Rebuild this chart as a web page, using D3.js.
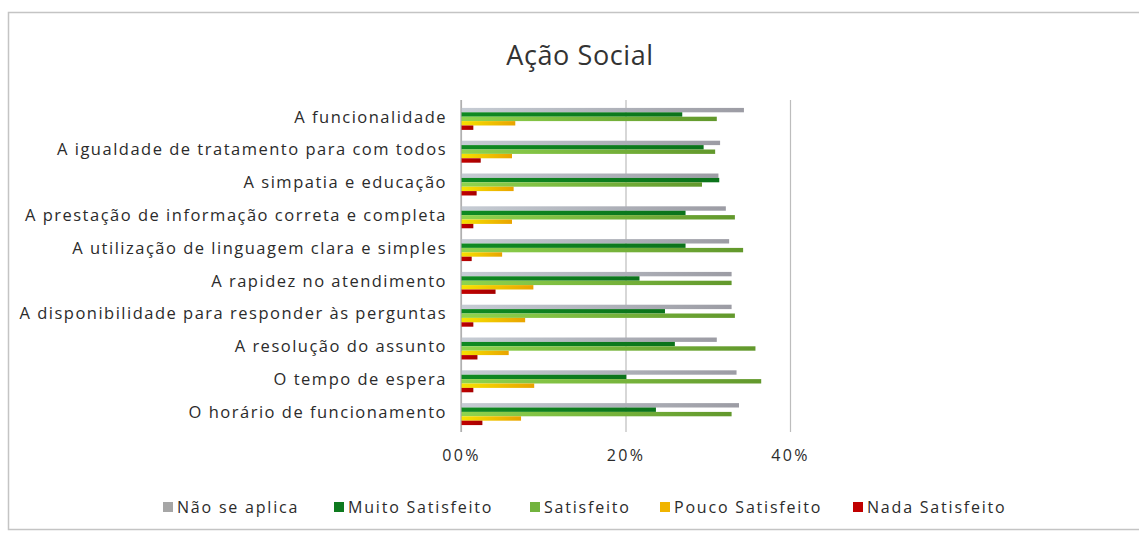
<!DOCTYPE html>
<html lang="pt">
<head>
<meta charset="utf-8">
<title>Ação Social</title>
<script src="https://cdn.jsdelivr.net/npm/d3@7"></script>
<style>
  html, body { margin: 0; padding: 0; background: #fff; }
  svg { display: block; }
  text { font-family: "Open Sans", "Noto Sans", sans-serif; fill: #3a3a3a; }
</style>
</head>
<body>
<svg id="chart" width="1139" height="534"></svg>
<script>
// Survey categories (top to bottom)
const categories = [
  "A funcionalidade",
  "A igualdade de tratamento para com todos",
  "A simpatia e educação",
  "A prestação de informação correta e completa",
  "A utilização de linguagem clara e simples",
  "A rapidez no atendimento",
  "A disponibilidade para responder às perguntas",
  "A resolução do assunto",
  "O tempo de espera",
  "O horário de funcionamento"
];

// Percentages per answer
const naoSeAplica     = [34.4, 31.5, 31.3, 32.2, 32.6, 32.9, 32.9, 31.1, 33.5, 33.8];
const muitoSatisfeito = [26.9, 29.5, 31.4, 27.3, 27.3, 21.7, 24.8, 26.0, 20.1, 23.7];
const satisfeito      = [31.1, 30.9, 29.3, 33.3, 34.3, 32.9, 33.3, 35.8, 36.5, 32.9];
const poucoSatisfeito = [ 6.6,  6.2,  6.4,  6.2,  5.0,  8.8,  7.8,  5.8,  8.9,  7.3];
const nadaSatisfeito  = [ 1.5,  2.4,  1.9,  1.5,  1.3,  4.2,  1.5,  2.0,  1.5,  2.6];

const seriesNames = ["Não se aplica", "Muito Satisfeito", "Satisfeito", "Pouco Satisfeito", "Nada Satisfeito"];
const seriesValues = [naoSeAplica, muitoSatisfeito, satisfeito, poucoSatisfeito, nadaSatisfeito];

const tickValues = [0, 20, 40];
const tickLabels = ["00%", "20%", "40%"];

// Fill for each answer: [left colour, right colour]
const seriesColors = [
  ["#c6ccd4", "#9c9ca4"],
  ["#0f8a22", "#0b731b"],
  ["#8fd44e", "#62982c"],
  ["#f6e400", "#e9a300"],
  ["#c40000", "#a50000"]
];
const legendColors = ["#a6a6a6", "#0e7a1f", "#72b33e", "#f0b400", "#c00000"];

const svg = d3.select("#chart");
const W = 1139, H = 534;

// Outer frame
svg.append("rect")
  .attr("x", 8.5).attr("y", 12.5)
  .attr("width", W + 10).attr("height", 517)
  .attr("fill", "#fff")
  .attr("stroke", "#c4c4c4").attr("stroke-width", 1.5);

// Gradients
const defs = svg.append("defs");
seriesColors.forEach((c, i) => {
  const g = defs.append("linearGradient")
    .attr("id", "grad" + i)
    .attr("x1", "0").attr("y1", "0").attr("x2", "1").attr("y2", "0");
  g.append("stop").attr("offset", "0%").attr("stop-color", c[0]);
  g.append("stop").attr("offset", "100%").attr("stop-color", c[1]);
});

// Scales
const x = d3.scaleLinear().domain([0, 40]).range([461, 790]);
const y = d3.scaleBand().domain(categories).range([102.5, 430.5]).paddingInner(0.33).paddingOuter(0.165);
const ySub = d3.scaleBand().domain(seriesNames).range([0, y.bandwidth()]);

// Title
svg.append("text")
  .attr("x", 580).attr("y", 65)
  .attr("text-anchor", "middle")
  .style("font-size", "27px")
  .style("letter-spacing", "0.6px")
  .style("fill", "#333")
  .text("Ação Social");

// Gridlines
const plotTop = 100, plotBottom = 432;
svg.append("g")
  .attr("transform", `translate(0,${plotBottom})`)
  .call(d3.axisBottom(x).tickValues(tickValues).tickSize(-(plotBottom - plotTop)).tickFormat(""))
  .call(g => g.select(".domain").remove())
  .call(g => g.selectAll("line").attr("stroke", "#bdbdbd").attr("stroke-width", 1.2));

// Bars
const groups = svg.append("g").selectAll("g")
  .data(categories)
  .join("g")
  .attr("transform", d => `translate(0,${y(d)})`);

groups.selectAll("rect")
  .data((d, ci) => seriesNames.map((s, si) => ({ s, si, v: seriesValues[si][ci] })))
  .join("rect")
  .attr("x", x(0))
  .attr("y", d => ySub(d.s))
  .attr("width", d => x(d.v) - x(0))
  .attr("height", ySub.bandwidth())
  .attr("fill", d => `url(#grad${d.si})`);

// Vertical axis line
svg.append("line")
  .attr("x1", x(0)).attr("x2", x(0))
  .attr("y1", plotTop).attr("y2", plotBottom)
  .attr("stroke", "#a8a8a8").attr("stroke-width", 1.2);

// Category labels
const yAxis = svg.append("g")
  .attr("transform", `translate(${x(0) - 14},0)`)
  .call(d3.axisLeft(y).tickSize(0).tickPadding(0));
yAxis.select(".domain").remove();
yAxis.selectAll("text")
  .style("font-family", '"Open Sans", sans-serif')
  .style("font-size", "16.5px")
  .style("letter-spacing", "1.5px")
  .style("fill", "#2b2b2b")
  .attr("dy", "0.22em");

// Value axis labels
const xAxis = svg.append("g")
  .attr("transform", `translate(0,${plotBottom})`)
  .call(d3.axisBottom(x).tickValues(tickValues).tickSize(0).tickPadding(18)
    .tickFormat((d, i) => tickLabels[i]));
xAxis.select(".domain").remove();
xAxis.selectAll("text")
  .style("font-family", '"Open Sans", sans-serif')
  .style("font-size", "16px")
  .style("letter-spacing", "2.4px")
  .style("fill", "#2b2b2b");

// Legend
const legendX = [163, 334, 530, 660, 853];
const legend = svg.append("g").selectAll("g")
  .data(seriesNames)
  .join("g")
  .attr("transform", (d, i) => `translate(${legendX[i]},507)`);
legend.append("rect")
  .attr("x", 0).attr("y", -5)
  .attr("width", 10).attr("height", 10)
  .attr("fill", (d, i) => legendColors[i]);
legend.append("text")
  .attr("x", 14).attr("y", 0).attr("dy", "0.35em")
  .style("font-size", "16px")
  .style("letter-spacing", "1.8px")
  .style("fill", "#2b2b2b")
  .text(d => d);
</script>
</body>
</html>
